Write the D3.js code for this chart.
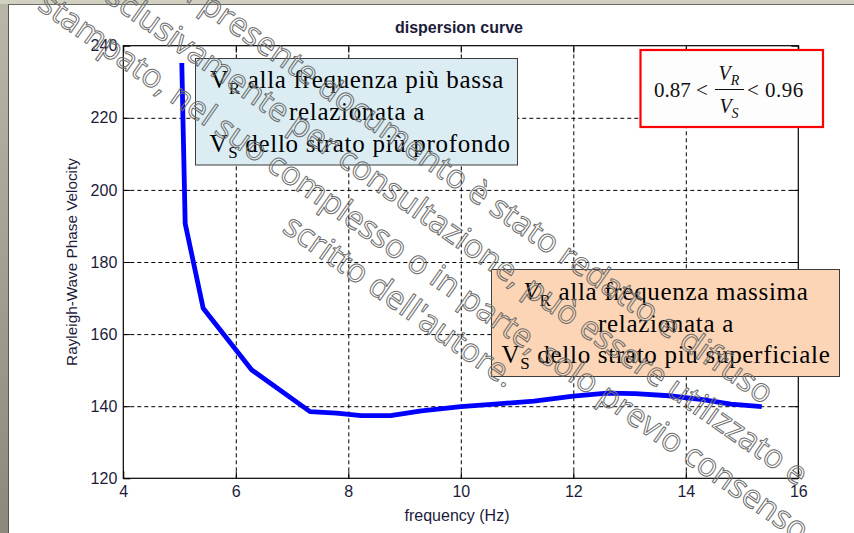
<!DOCTYPE html>
<html>
<head>
<meta charset="utf-8">
<script src="https://cdn.jsdelivr.net/npm/d3@7"></script>
<style>
  body { margin: 0; background: #fff; }
  svg { display: block; }
  .tick text { font-family: "Liberation Sans", Arial, sans-serif; font-size: 16px; fill: #1c1c3a; }
</style>
</head>
<body>
<script>
var W = 854, H = 533;

// dispersion curve (frequency in Hz, Rayleigh phase velocity)
var freq = [5.04, 5.06, 5.08, 5.10, 5.42, 6.28, 7.32, 7.79, 8.23, 8.75, 9.30, 10.0, 10.6, 11.3, 12.0, 12.6, 13.1, 13.7, 14.3, 14.8, 15.35];
var velocity = [235.2, 220, 205.5, 190.7, 167.2, 150.1, 138.5, 138.1, 137.4, 137.4, 138.7, 139.9, 140.6, 141.4, 142.8, 143.6, 143.5, 142.9, 141.8, 140.6, 139.9];

var xTicks = [4, 6, 8, 10, 12, 14, 16];
var yTicks = [120, 140, 160, 180, 200, 220, 240];

var watermark = [
  "Il presente documento è stato redatto e diffuso",
  "esclusivamente per consultazione, può essere utilizzato e",
  "stampato, nel suo complesso o in parte, solo previo consenso",
  "scritto dell'autore."
];

var plotL = 123.3, plotR = 798.3, plotT = 45.7, plotB = 478.3;

var svg = d3.select("body").append("svg")
    .attr("width", W)
    .attr("height", H);

// window frame
svg.append("rect").attr("width", W).attr("height", H).attr("fill", "#fff");
var grad = svg.append("defs").append("linearGradient")
    .attr("id", "side").attr("x1", 0).attr("y1", 0).attr("x2", 0).attr("y2", 1);
grad.append("stop").attr("offset", "0").attr("stop-color", "#b9b7a7");
grad.append("stop").attr("offset", "1").attr("stop-color", "#8b8979");
svg.append("rect").attr("x", 0).attr("y", 0).attr("width", 8).attr("height", H).attr("fill", "url(#side)");
svg.append("rect").attr("x", 0).attr("y", 0).attr("width", W).attr("height", 4).attr("fill", "#d2d0c0");
svg.append("line").attr("x1", 8.5).attr("y1", 4).attr("x2", 8.5).attr("y2", H).attr("stroke", "#55554d");
svg.append("line").attr("x1", 8).attr("y1", 4.5).attr("x2", W).attr("y2", 4.5).attr("stroke", "#6a6a62");

var x = d3.scaleLinear().domain([4, 16]).range([plotL, plotR]);
var y = d3.scaleLinear().domain([120, 240]).range([plotB, plotT]);

// dashed grid
svg.append("g")
    .attr("transform", "translate(0," + plotB + ")")
    .call(d3.axisBottom(x).tickValues(xTicks.slice(1, -1)).tickSize(-(plotB - plotT)).tickFormat(""))
    .call(g => g.select(".domain").remove())
    .selectAll("line").attr("stroke", "#000").attr("stroke-dasharray", "4,3");
svg.append("g")
    .attr("transform", "translate(" + plotL + ",0)")
    .call(d3.axisLeft(y).tickValues(yTicks.slice(1, -1)).tickSize(-(plotR - plotL)).tickFormat(""))
    .call(g => g.select(".domain").remove())
    .selectAll("line").attr("stroke", "#000").attr("stroke-dasharray", "4,3");

// axes with inward ticks
function styleAxis(g) {
  g.select(".domain").remove();
  g.selectAll("line").attr("stroke", "#000");
}
svg.append("g").attr("transform", "translate(0," + plotB + ")")
    .call(d3.axisBottom(x).tickValues(xTicks).tickSizeInner(-7).tickSizeOuter(0).tickPadding(7))
    .call(styleAxis);
svg.append("g").attr("transform", "translate(0," + plotT + ")")
    .call(d3.axisTop(x).tickValues(xTicks).tickSizeInner(-7).tickSizeOuter(0).tickFormat(""))
    .call(styleAxis);
svg.append("g").attr("transform", "translate(" + plotL + ",0)")
    .call(d3.axisLeft(y).tickValues(yTicks).tickSizeInner(-7).tickSizeOuter(0).tickPadding(6))
    .call(styleAxis);
svg.append("g").attr("transform", "translate(" + plotR + ",0)")
    .call(d3.axisRight(y).tickValues(yTicks).tickSizeInner(-7).tickSizeOuter(0).tickFormat(""))
    .call(styleAxis);

svg.append("rect")
    .attr("x", plotL).attr("y", plotT)
    .attr("width", plotR - plotL).attr("height", plotB - plotT)
    .attr("fill", "none").attr("stroke", "#000").attr("stroke-width", 1.2);

// curve
var data = freq.map(function (f, i) { return { f: f, v: velocity[i] }; });
var line = d3.line().x(d => x(d.f)).y(d => y(d.v));
svg.append("path")
    .datum(data)
    .attr("fill", "none")
    .attr("stroke", "#0000ff")
    .attr("stroke-width", 4.8)
    .attr("stroke-linejoin", "round")
    .attr("d", line);

// title and axis labels
svg.append("text")
    .attr("x", 459).attr("y", 33)
    .attr("text-anchor", "middle")
    .attr("font-family", "Liberation Sans, Arial, sans-serif")
    .attr("font-weight", "bold").attr("font-size", 16)
    .attr("fill", "#1c1c3a")
    .text("dispersion curve");
svg.append("text")
    .attr("x", 457).attr("y", 521)
    .attr("text-anchor", "middle")
    .attr("font-family", "Liberation Sans, Arial, sans-serif")
    .attr("font-size", 16).attr("fill", "#1c1c3a")
    .text("frequency (Hz)");
svg.append("text")
    .attr("transform", "translate(77," + ((plotT + plotB) / 2) + ") rotate(-90)")
    .attr("text-anchor", "middle")
    .attr("font-family", "Liberation Sans, Arial, sans-serif")
    .attr("font-size", 15.3).attr("fill", "#1c1c3a")
    .text("Rayleigh-Wave Phase Velocity");

// annotation boxes
function noteLine(g, cx, by, parts) {
  var t = g.append("text")
      .attr("x", cx).attr("y", by)
      .attr("text-anchor", "middle")
      .attr("font-family", "Liberation Serif, Times New Roman, serif")
      .attr("font-size", 25).attr("letter-spacing", 0.7).attr("fill", "#000");
  parts.forEach(function (p) {
    var s = t.append("tspan").text(p.t);
    if (p.sub) s.attr("font-size", 17).attr("dy", 6);
    if (p.back) s.attr("dy", -6);
    if (p.it) s.attr("font-style", "italic");
  });
}

var b1 = svg.append("g");
b1.append("rect").attr("x", 195.5).attr("y", 58.5).attr("width", 322).attr("height", 106.5)
    .attr("fill", "#dbedf3").attr("stroke", "#3c3c3c");
noteLine(b1, 357, 88, [{ t: "V" }, { t: "R", sub: true }, { t: " alla frequenza più bassa", back: true }]);
noteLine(b1, 357, 120, [{ t: "relazionata a" }]);
noteLine(b1, 360, 152, [{ t: "V" }, { t: "S", sub: true }, { t: " dello strato più profondo", back: true }]);

var b2 = svg.append("g");
b2.append("rect").attr("x", 491.5).attr("y", 269.5).attr("width", 348).attr("height", 107)
    .attr("fill", "#fbd5b5").attr("stroke", "#3c3c3c");
noteLine(b2, 666, 300, [{ t: "V", it: true }, { t: "R", sub: true }, { t: " alla frequenza massima", back: true }]);
noteLine(b2, 666, 331.5, [{ t: "relazionata a" }]);
noteLine(b2, 666, 363, [{ t: "V" }, { t: "S", sub: true }, { t: " dello strato più superficiale", back: true }]);

// ratio box
var b3 = svg.append("g").attr("font-family", "Liberation Serif, Times New Roman, serif").attr("fill", "#111");
b3.append("rect").attr("x", 640.5).attr("y", 50).attr("width", 182.5).attr("height", 77)
    .attr("fill", "#fdfdfd").attr("stroke", "#ff0000").attr("stroke-width", 2.2);
b3.append("text").attr("x", 654).attr("y", 97).attr("font-size", 21).text("0.87 <");
b3.append("text").attr("x", 747).attr("y", 97).attr("font-size", 21).attr("letter-spacing", 0.5).text("< 0.96");
var num = b3.append("text").attr("x", 729).attr("y", 80).attr("text-anchor", "middle").attr("font-size", 20);
num.append("tspan").attr("font-style", "italic").text("V");
num.append("tspan").attr("font-style", "italic").attr("font-size", 14).attr("dy", 5).text("R");
var den = b3.append("text").attr("x", 729).attr("y", 113).attr("text-anchor", "middle").attr("font-size", 20);
den.append("tspan").attr("font-style", "italic").text("V");
den.append("tspan").attr("font-style", "italic").attr("font-size", 14).attr("dy", 5).text("S");
b3.append("line").attr("x1", 715).attr("x2", 744).attr("y1", 89.5).attr("y2", 89.5)
    .attr("stroke", "#111").attr("stroke-width", 1);

// watermark
var wmY = [-106, -59, -14, 28];
svg.append("g")
    .attr("transform", "rotate(35)")
    .selectAll("text")
    .data(watermark)
    .enter().append("text")
    .attr("x", 500)
    .attr("y", (d, i) => wmY[i])
    .attr("text-anchor", "middle")
    .attr("font-family", "Open Sans, DejaVu Sans, sans-serif")
    .attr("font-size", 32.5)
    .attr("fill", "none")
    .attr("stroke", "#6e6e6e")
    .attr("stroke-width", 1)
    .text(d => d);
</script>
</body>
</html>
